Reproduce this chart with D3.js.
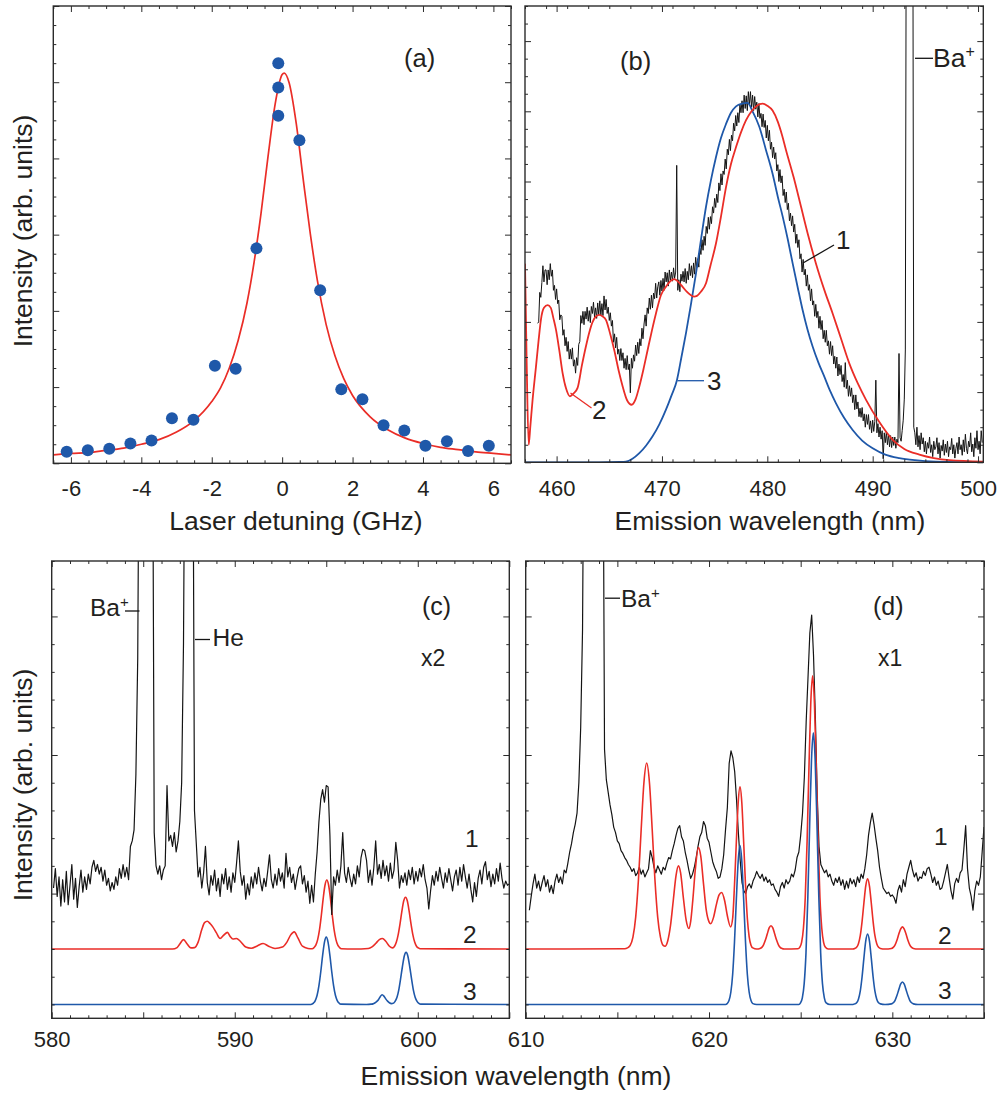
<!DOCTYPE html>
<html>
<head>
<meta charset="utf-8">
<script src="https://cdn.jsdelivr.net/npm/d3@7"></script>
<style>
  body { margin: 0; background: #fff; }
  svg { display: block; font-family: "Liberation Sans", Arial, Helvetica, sans-serif; }
</style>
</head>
<body>
<svg id="fig" width="999" height="1097"></svg>
<script>
// ---------- (a) excitation spectrum ----------
const detuningGHz = [-6.12,-5.52,-4.91,-4.31,-3.71,-3.13,-2.52,-1.91,-1.32,-0.73,-0.11,-0.11,-0.11,0.49,1.08,1.68,2.28,2.88,3.47,4.07,4.68,5.28,5.87];
const excitationSignal = [0.15,0.17,0.19,0.26,0.30,0.59,0.57,1.28,1.24,2.82,4.56,4.93,5.25,4.24,2.27,0.97,0.84,0.50,0.43,0.23,0.29,0.16,0.23];
const fitDetuning = [-6.5,-6,-5.5,-5,-4.5,-4,-3.5,-3,-2.5,-2,-1.75,-1.5,-1.25,-1,-0.8,-0.6,-0.4,-0.2,0,0.06,0.2,0.4,0.6,0.8,1,1.25,1.5,1.75,2,2.5,3,3.5,4,4.5,5,5.5,6,6.5];
const fitSignal = [0.11,0.13,0.14,0.17,0.20,0.25,0.31,0.41,0.56,0.81,0.99,1.25,1.61,2.10,2.63,3.28,4.03,4.71,5.10,5.12,4.99,4.46,3.72,3.01,2.40,1.82,1.41,1.11,0.89,0.61,0.44,0.33,0.26,0.21,0.18,0.15,0.13,0.11];

// ---------- (b) blue emission band ----------
const measuredB_start = 458.2, measuredB_step = 0.1;
const measuredB = [
1.98,2.00,2.42,2.35,2.56,2.80,2.57,2.74,
2.74,2.53,2.74,2.60,2.83,2.65,2.74,2.45,2.52,2.32,
2.47,2.26,2.31,2.03,2.10,2.08,1.81,1.89,1.66,1.78,
1.58,1.72,1.47,1.61,1.47,1.63,1.37,1.46,1.27,1.49,
1.38,1.68,1.72,2.09,1.98,2.15,1.96,2.15,2.04,2.21,
2.01,2.16,1.99,2.22,2.12,2.28,2.07,2.20,2.05,2.27,
2.10,2.30,2.09,2.26,2.09,2.37,2.17,2.32,2.12,2.21,
2.02,2.13,1.94,2.02,1.71,1.83,1.63,1.78,1.54,1.61,
1.45,1.62,1.45,1.56,1.34,1.48,1.32,1.52,1.32,1.40,
0.99,1.48,1.34,1.53,1.44,1.67,1.52,1.71,1.55,1.76,
1.66,1.91,1.76,1.97,2.10,1.94,2.20,2.12,2.34,2.18,
2.38,2.20,2.41,2.33,2.55,2.34,2.50,2.57,2.38,2.59,
2.44,2.62,2.45,2.71,2.57,2.70,2.51,2.74,2.59,2.71,
2.58,2.77,2.62,2.71,4.23,2.45,2.60,2.43,2.68,2.58,
2.72,2.57,2.76,2.55,2.72,2.60,2.83,2.66,2.80,2.63,
2.84,2.68,2.92,2.77,2.90,2.78,3.05,2.96,3.17,3.02,
3.22,3.09,3.36,3.26,3.49,3.32,3.50,3.40,3.64,3.55,
3.76,3.63,3.82,3.70,3.98,3.87,4.11,3.95,4.15,4.10,
4.32,4.18,4.46,4.38,4.60,4.44,4.66,4.58,4.83,4.72,
4.94,4.79,4.98,4.84,5.10,4.98,5.15,4.98,5.23,5.04,
5.22,5.01,5.28,5.09,5.28,5.06,5.23,5.01,5.21,5.03,
5.13,4.92,5.11,4.90,4.97,4.78,4.96,4.77,4.87,4.62,
4.80,4.58,4.73,4.46,4.56,4.34,4.49,4.32,4.41,4.15,
4.24,4.00,4.17,3.98,4.08,3.80,3.89,3.70,3.85,3.60,
3.69,3.44,3.55,3.37,3.51,3.28,3.39,3.12,3.25,3.06,
3.17,2.90,2.97,2.71,2.89,2.67,2.75,2.51,2.67,2.45,
2.53,2.30,2.47,2.24,2.30,2.08,2.25,2.06,2.15,1.91,
2.08,1.89,2.02,1.76,1.88,1.71,1.88,1.66,1.73,1.54,
1.72,1.52,1.66,1.40,1.51,1.34,1.50,1.23,1.40,1.25,
1.38,1.15,1.25,1.07,1.42,1.05,1.17,0.94,1.09,0.94,
1.06,0.85,0.96,0.75,0.96,0.76,0.86,0.65,0.77,0.64,
0.78,0.59,0.69,0.50,0.68,0.54,0.68,0.47,0.59,0.42,
0.60,0.44,0.58,1.17,0.42,0.55,0.36,0.50,0.33,0.45,
0.05,0.42,0.28,0.43,0.25,0.40,0.22,0.38,0.21,0.36,
0.24,0.36,0.20,0.33,0.28,1.55,0.35,0.30,0.45,0.60,
0.90,1.60,9,9,9,9,9,9,9,0.50,
0.42,0.25,0.50,0.22,0.38,0.18,0.42,0.26,0.35,0.15,
0.30,0.12,0.28,0.20,0.36,0.14,0.25,0.08,0.30,0.18,
0.22,0.35,0.12,0.28,0.06,0.24,0.16,0.32,0.10,0.26,
0.14,0.30,0.08,0.22,0.18,0.34,0.12,0.25,0.06,0.20,
0.28,0.12,0.36,0.18,0.25,0.10,0.32,0.15,0.40,0.20,
0.12,0.30,0.22,0.42,0.15,0.26,0.08,0.35,0.20,0.45,
0.18,0.30,0.12,0.45,0.28
];
const modelB2 = [[457.0,2.83],[457.15,1.5],[457.35,0.25],[457.5,0.5],[457.72,0.89],[458.04,1.36],[458.3,1.75],[458.51,2.03],[458.8,2.2],[459.15,2.24],[459.45,2.2],[459.7,2.05],[459.94,1.89],[460.25,1.6],[460.57,1.27],[460.9,1.05],[461.27,0.94],[461.6,0.98],[461.99,1.06],[462.4,1.38],[462.78,1.65],[463.1,1.85],[463.42,2.0],[463.75,2.08],[464.05,2.10],[464.35,2.08],[464.68,2.03],[465.1,1.82],[465.47,1.6],[465.9,1.3],[466.27,1.08],[466.7,0.88],[467.12,0.82],[467.5,0.9],[467.85,1.08],[468.25,1.33],[468.64,1.6],[469.05,1.88],[469.43,2.12],[469.9,2.38],[470.38,2.50],[470.8,2.58],[471.17,2.61],[471.55,2.57],[471.96,2.50],[472.35,2.43],[472.75,2.38],[473.05,2.36],[473.32,2.37],[473.7,2.43],[474.18,2.55],[474.6,2.8],[475.13,3.12],[475.6,3.5],[476.08,3.92],[476.55,4.25],[477.03,4.49],[477.5,4.7],[477.97,4.87],[478.5,5.0],[479.0,5.08],[479.56,5.11],[480.0,5.08],[480.5,5.01],[481.0,4.85],[481.4,4.66],[481.77,4.45],[482.5,4.06],[483.2,3.64],[483.9,3.22],[484.62,2.83],[485.4,2.46],[486.2,2.12],[487.0,1.76],[487.78,1.41],[488.6,1.12],[489.37,0.89],[490.6,0.58],[491.9,0.32],[493.0,0.19],[494.43,0.11],[495.8,0.06],[497.28,0.03],[500.5,0.01]];
const modelB3 = [[457.0,0],[464.0,0],[466.0,0.005],[466.58,0.01],[467.2,0.05],[467.85,0.13],[468.5,0.24],[469.11,0.37],[469.75,0.54],[470.38,0.75],[470.9,0.95],[471.42,1.17],[471.85,1.5],[472.28,1.84],[472.75,2.25],[473.23,2.69],[473.7,3.17],[474.18,3.64],[474.65,4.02],[475.13,4.35],[475.6,4.62],[476.08,4.82],[476.55,4.98],[477.03,5.07],[477.6,5.11],[478.13,5.12],[478.6,5.0],[479.24,4.78],[479.87,4.45],[480.5,4.11],[481.0,3.78],[481.46,3.50],[481.95,3.17],[482.41,2.83],[482.9,2.48],[483.35,2.17],[483.8,1.9],[484.3,1.65],[484.85,1.42],[485.41,1.22],[485.95,1.02],[486.52,0.84],[487.3,0.63],[488.1,0.46],[489.0,0.31],[490.0,0.20],[491.2,0.11],[492.53,0.06],[494,0.03],[496,0.01],[500.5,0]];

// ---------- (c) 580-605 nm ----------
const measuredC_start = 580.1, measuredC_step = 0.1;
const measuredC = [
0.20,0.90,-0.10,0.60,-0.45,0.50,-0.30,0.80,-0.40,
0.30,1.05,-0.20,0.55,-0.50,0.25,0.85,0.05,0.60,0.15,
0.70,0.35,0.95,1.20,0.80,1.05,0.70,0.95,0.45,0.85,
0.30,0.55,0.10,0.40,0.15,0.60,0.30,0.90,0.55,1.05,
0.60,0.95,0.50,1.70,1.90,2.30,4.30,8.50,20,20,
20,20,20,20,20,20,2.20,1.00,0.70,1.00,
0.50,0.85,1.00,3.90,1.90,2.10,1.70,2.20,1.50,1.90,
2.60,4.00,9.00,20,20,20,20,20,3.00,1.80,
0.60,0.95,0.20,0.75,1.70,0.40,-0.05,0.65,0.30,0.85,
0.10,0.55,-0.10,0.70,0.35,0.90,0.15,0.60,0.05,0.75,
0.40,1.10,1.90,0.80,0.30,0.65,-0.20,0.35,-0.05,0.60,
0.20,0.75,0.35,0.95,0.45,0.10,0.55,0.25,0.80,1.40,
0.50,0.20,0.70,0.30,0.90,0.45,0.75,0.20,1.45,0.60,
0.95,0.40,0.70,0.15,0.55,0.90,1.00,0.35,0.65,0.05,
0.45,-0.35,0.30,-0.30,0.70,1.50,2.60,3.40,3.75,3.30,
3.90,3.85,2.10,-0.75,0.60,0.30,0.85,0.40,1.00,2.20,
0.75,0.40,0.95,0.55,0.25,0.70,0.35,1.00,0.60,1.30,
1.60,1.55,1.20,0.40,0.85,0.30,0.95,1.90,0.70,1.05,
0.55,1.20,0.65,1.00,0.45,1.10,0.55,0.85,1.85,1.20,
0.20,0.65,0.40,0.75,0.30,0.85,0.50,0.95,0.35,0.80,
0.45,0.90,0.60,1.05,0.50,0.20,-0.55,0.10,0.65,0.30,
0.80,0.45,0.95,0.55,0.20,0.75,0.40,0.90,0.50,0.10,
0.60,0.85,0.30,0.95,0.45,1.05,0.60,0.20,0.70,0.15,
-0.30,0.40,-0.10,0.55,0.85,0.35,0.95,1.15,0.50,0.80,
0.25,0.70,0.35,0.90,0.45,1.10,0.55,0.20,0.45,0.30,
0.35
];
const modelC2 = [[580,-2],[586.6,-2],[586.85,-1.95],[587.0,-1.82],[587.2,-1.66],[587.4,-1.82],[587.6,-1.96],[587.8,-1.95],[588.0,-1.75],[588.2,-1.3],[588.35,-1.05],[588.5,-1.0],[588.65,-1.08],[588.8,-1.2],[589.0,-1.42],[589.2,-1.62],[589.4,-1.5],[589.6,-1.4],[589.75,-1.55],[589.9,-1.64],[590.1,-1.62],[590.3,-1.72],[590.6,-1.93],[590.9,-1.97],[591.25,-1.88],[591.55,-1.8],[591.85,-1.9],[592.2,-1.98],[592.6,-1.93],[592.85,-1.75],[593.05,-1.5],[593.25,-1.38],[593.45,-1.6],[593.7,-1.9],[594.0,-1.98],[594.23,-1.99],[594.33,-1.95],[594.43,-1.86],[594.53,-1.66],[594.63,-1.31],[594.73,-0.79],[594.83,-0.19],[594.93,0.30],[595.03,0.49],[595.13,0.30],[595.23,-0.19],[595.33,-0.79],[595.43,-1.31],[595.53,-1.66],[595.63,-1.86],[595.73,-1.95],[595.83,-1.99],[596.5,-2],[597.3,-1.98],[597.5,-1.92],[597.7,-1.8],[597.9,-1.66],[598.07,-1.62],[598.25,-1.72],[598.45,-1.9],[598.63,-1.96],[598.73,-1.9],[598.83,-1.75],[598.93,-1.48],[599.03,-1.09],[599.13,-0.64],[599.23,-0.27],[599.33,-0.13],[599.43,-0.27],[599.53,-0.64],[599.63,-1.09],[599.73,-1.48],[599.83,-1.75],[599.93,-1.9],[600.03,-1.96],[600.13,-1.99],[605,-2]];
const modelC3 = [[580,-4],[594.1,-4],[594.2,-3.99],[594.3,-3.95],[594.4,-3.86],[594.5,-3.67],[594.6,-3.32],[594.7,-2.82],[594.8,-2.24],[594.9,-1.76],[595.0,-1.57],[595.1,-1.76],[595.2,-2.24],[595.3,-2.82],[595.4,-3.32],[595.5,-3.67],[595.6,-3.86],[595.7,-3.95],[595.8,-3.99],[597.2,-4],[597.45,-3.99],[597.55,-3.98],[597.65,-3.95],[597.75,-3.9],[597.85,-3.83],[597.95,-3.72],[598.05,-3.65],[598.15,-3.7],[598.25,-3.8],[598.35,-3.88],[598.45,-3.94],[598.56,-3.97],[598.66,-3.96],[598.76,-3.89],[598.86,-3.75],[598.96,-3.48],[599.06,-3.08],[599.16,-2.64],[599.26,-2.26],[599.36,-2.12],[599.46,-2.26],[599.56,-2.64],[599.66,-3.08],[599.76,-3.48],[599.86,-3.75],[599.96,-3.89],[600.06,-3.96],[600.16,-3.99],[605,-4]];

// ---------- (d) 610-635 nm ----------
const measuredD_start = 610.2, measuredD_step = 0.1;
const measuredD = [
-0.60,-0.10,0.35,0.70,0.20,0.45,0.10,0.40,
0.65,0.25,0.50,0.05,0.30,0.00,0.45,0.70,0.40,0.60,
0.35,0.85,0.75,1.10,1.50,1.80,2.20,2.50,2.90,4.00,
6.00,9.50,20,20,20,20,20,20,20,20,
20,20,20,5.20,4.10,3.65,3.20,2.85,2.40,2.20,
1.90,1.80,1.55,1.45,1.30,1.20,1.05,0.95,0.80,0.90,
0.65,0.75,0.95,0.70,0.85,0.60,0.75,0.90,1.55,1.30,
0.95,0.75,1.00,0.85,0.70,0.95,0.85,1.10,1.30,1.25,
1.55,1.80,2.10,2.35,2.45,2.05,1.90,1.50,1.20,0.85,
0.55,0.70,0.95,1.30,1.70,2.05,2.20,2.60,2.45,2.00,
1.85,1.50,1.15,0.95,0.80,0.55,0.60,0.90,1.40,2.30,
3.10,4.70,5.15,4.90,4.40,3.40,2.20,1.20,0.40,0.10,
0.00,0.25,0.35,0.20,0.45,0.60,0.80,0.65,0.55,0.70,
0.45,0.60,0.40,0.50,0.30,0.35,0.15,0.05,-0.10,0.25,
0.40,0.20,0.50,0.35,0.45,0.70,0.60,0.85,1.30,1.50,
2.10,2.90,4.20,6.20,7.80,9.40,10.05,8.60,6.40,3.60,
1.70,1.05,0.90,0.75,0.85,0.60,0.70,0.45,0.30,0.55,
0.40,0.60,0.30,0.50,0.15,0.45,0.20,0.55,0.35,0.50,
0.25,0.60,0.40,0.70,0.55,0.90,1.40,2.10,2.55,2.90,
2.50,2.00,1.55,0.95,0.55,0.20,0.10,0.00,0.05,-0.10,
-0.05,-0.15,-0.35,0.10,0.30,0.05,0.50,0.25,0.70,0.95,
1.20,0.85,0.60,0.75,0.45,0.60,0.55,0.80,0.65,0.90,
0.95,0.70,0.40,0.60,0.30,0.45,0.15,0.20,0.45,0.75,
1.05,0.55,0.10,-0.20,0.35,0.55,0.40,0.75,0.85,1.60,
2.45,0.90,0.20,-0.10,-0.60,0.10,0.45,0.30,0.60,1.50,
2.40
];
const modelD2 = [[610,-2],[615.4,-1.99],[615.55,-1.96],[615.7,-1.87],[615.85,-1.57],[616.0,-0.85],[616.15,0.50],[616.3,2.32],[616.45,4.01],[616.6,4.71],[616.75,4.01],[616.9,2.32],[617.05,0.50],[617.2,-0.85],[617.35,-1.57],[617.5,-1.87],[617.6,-1.9],[617.75,-1.7],[617.9,-1.15],[618.05,-0.25],[618.2,0.65],[618.33,1.0],[618.45,0.75],[618.6,-0.15],[618.75,-0.95],[618.9,-1.26],[619.0,-1.0],[619.12,-0.2],[619.25,0.85],[619.42,1.66],[619.55,1.35],[619.7,0.35],[619.85,-0.6],[620.0,-1.02],[620.09,-1.09],[620.25,-0.85],[620.4,-0.4],[620.55,-0.05],[620.69,0.04],[620.85,-0.25],[621.0,-0.8],[621.18,-1.2],[621.29,-0.89],[621.39,0.31],[621.49,1.86],[621.59,3.27],[621.69,3.85],[621.79,3.27],[621.89,1.86],[621.99,0.31],[622.09,-0.89],[622.19,-1.56],[622.29,-1.86],[622.39,-1.96],[622.6,-2.0],[622.78,-1.98],[622.88,-1.94],[622.98,-1.84],[623.08,-1.67],[623.18,-1.45],[623.28,-1.24],[623.38,-1.16],[623.48,-1.24],[623.58,-1.45],[623.68,-1.67],[623.78,-1.84],[623.88,-1.94],[623.98,-1.98],[624.1,-2.0],[624.85,-1.99],[624.95,-1.94],[625.05,-1.76],[625.15,-1.25],[625.25,-0.13],[625.35,1.89],[625.45,4.51],[625.55,6.87],[625.65,7.86],[625.75,6.87],[625.85,4.51],[625.95,1.89],[626.05,-0.13],[626.15,-1.25],[626.25,-1.76],[626.35,-1.94],[626.5,-2.0],[627.85,-2.0],[627.95,-1.98],[628.05,-1.94],[628.15,-1.81],[628.25,-1.52],[628.35,-1.0],[628.45,-0.33],[628.55,0.28],[628.65,0.53],[628.75,0.28],[628.85,-0.33],[628.95,-1.0],[629.05,-1.52],[629.15,-1.81],[629.25,-1.94],[629.35,-1.98],[629.6,-2.0],[629.95,-1.98],[630.05,-1.94],[630.15,-1.85],[630.25,-1.68],[630.35,-1.47],[630.45,-1.28],[630.55,-1.2],[630.65,-1.28],[630.75,-1.47],[630.85,-1.68],[630.95,-1.85],[631.05,-1.94],[631.15,-1.98],[631.4,-2.0],[635,-2]];
const modelD3 = [[610,-4],[620.9,-4],[620.99,-3.97],[621.09,-3.86],[621.19,-3.56],[621.29,-2.91],[621.39,-1.74],[621.49,-0.22],[621.59,1.16],[621.69,1.73],[621.79,1.16],[621.89,-0.22],[621.99,-1.74],[622.09,-2.91],[622.19,-3.56],[622.29,-3.86],[622.39,-3.97],[622.6,-4],[624.9,-4],[624.99,-3.94],[625.09,-3.76],[625.19,-3.26],[625.29,-2.14],[625.39,-0.13],[625.49,2.47],[625.59,4.82],[625.69,5.8],[625.79,4.82],[625.89,2.47],[625.99,-0.13],[626.09,-2.14],[626.19,-3.26],[626.29,-3.76],[626.39,-3.94],[626.6,-4],[627.85,-4],[627.95,-3.98],[628.05,-3.94],[628.15,-3.81],[628.25,-3.52],[628.35,-3.0],[628.45,-2.32],[628.55,-1.71],[628.65,-1.46],[628.75,-1.71],[628.85,-2.32],[628.95,-3.0],[629.05,-3.52],[629.15,-3.81],[629.25,-3.94],[629.35,-3.98],[629.6,-4],[629.95,-3.98],[630.05,-3.94],[630.15,-3.85],[630.25,-3.68],[630.35,-3.47],[630.45,-3.27],[630.55,-3.19],[630.65,-3.27],[630.75,-3.47],[630.85,-3.68],[630.95,-3.85],[631.05,-3.94],[631.15,-3.98],[631.4,-4],[635,-4]];

// ---------- tick values ----------
const ticksA_x = [-6,-4,-2,0,2,4,6];
const ticksB_x = [460,470,480,490,500];
const ticksC_x = [580,590,600];
const ticksD_x = [610,620,630];

// ---------- drawing ----------
const COL = { red: "#ea2d27", blue: "#1f58a9", black: "#141414", axis: "#2b2b2b", text: "#231f20" };
const svg = d3.select("#fig");
svg.append("rect").attr("width", 999).attr("height", 1097).attr("fill", "#fff");

function range(a, b, s) { const out = []; for (let v = a; v <= b + 1e-9; v += s) out.push(+v.toFixed(4)); return out; }

function panel(o) {
  const w = o.x1 - o.x0, h = o.y1 - o.y0;
  const g = svg.append("g").attr("transform", `translate(${o.x0},${o.y0})`);
  const x = d3.scaleLinear().domain(o.xDomain).range([0, w]);
  const y = d3.scaleLinear().domain(o.yDomain).range([h, 0]);
  const cid = "clip-" + o.id;
  g.append("clipPath").attr("id", cid).append("rect").attr("width", w).attr("height", h);
  const plot = g.append("g").attr("clip-path", `url(#${cid})`);

  const xMinor = range(o.xDomain[0], o.xDomain[1], o.xMinorStep).filter(v => Math.abs(v / o.xMajorStep - Math.round(v / o.xMajorStep)) > 1e-6);
  const xMajor = range(Math.ceil(o.xDomain[0] / o.xMajorStep) * o.xMajorStep, o.xDomain[1], o.xMajorStep);
  const yMinor = range(Math.ceil(o.yDomain[0] / o.yMinorStep) * o.yMinorStep, o.yDomain[1], o.yMinorStep).filter(v => Math.abs(v / o.yMajorStep - Math.round(v / o.yMajorStep)) > 1e-6);
  const yMajor = range(Math.ceil(o.yDomain[0] / o.yMajorStep) * o.yMajorStep, o.yDomain[1], o.yMajorStep);

  const axes = g.append("g").attr("class", "axes");
  const add = (axis, tr, vals, size, labels) => {
    const a = axis.tickValues(vals).tickSize(size).tickPadding(o.labelPad);
    a.tickFormat(labels ? (d => labels.some(l => Math.abs(l - d) < 1e-6) ? String(d) : "") : () => "");
    const ag = axes.append("g").attr("transform", tr).call(a);
    ag.select(".domain").remove();
    ag.selectAll("line").attr("stroke", COL.axis).attr("stroke-width", 1);
    ag.selectAll("text").attr("fill", COL.text).style("font-size", "22px").style("font-family", "Liberation Sans, Arial, sans-serif");
  };
  add(d3.axisBottom(x), `translate(0,${h})`, xMinor, -3, null);
  add(d3.axisBottom(x), `translate(0,${h})`, xMajor, -6, o.xLabels);
  add(d3.axisTop(x), "translate(0,0)", xMinor, -3, null);
  add(d3.axisTop(x), "translate(0,0)", xMajor, -6, null);
  add(d3.axisLeft(y), "translate(0,0)", yMinor, -3, null);
  add(d3.axisLeft(y), "translate(0,0)", yMajor, -6, null);
  add(d3.axisRight(y), `translate(${w},0)`, yMinor, -3, null);
  add(d3.axisRight(y), `translate(${w},0)`, yMajor, -6, null);

  return { g, plot, x, y, w, h, finish() {
    g.append("rect").attr("width", w).attr("height", h).attr("fill", "none")
      .attr("stroke", COL.axis).attr("stroke-width", 1.4);
  } };
}

function sampled(p, start, step, vals, color, width) {
  const line = d3.line().x((d, i) => p.x(start + i * step)).y(d => p.y(d));
  p.plot.append("path").attr("d", line(vals)).attr("fill", "none")
    .attr("stroke", color).attr("stroke-width", width).attr("stroke-linejoin", "round");
}
function smooth(p, pts, color, width) {
  const line = d3.line().x(d => p.x(d[0])).y(d => p.y(d[1])).curve(d3.curveMonotoneX);
  p.plot.append("path").attr("d", line(pts)).attr("fill", "none")
    .attr("stroke", color).attr("stroke-width", width).attr("stroke-linejoin", "round");
}
function text(x, y, s, size, opts = {}) {
  const t = svg.append("text").attr("x", x).attr("y", y).attr("fill", COL.text)
    .style("font-size", size + "px").attr("text-anchor", opts.anchor || "start");
  if (opts.rotate) t.attr("transform", `rotate(-90,${x},${y})`);
  t.text(s);
  if (opts.sup) t.append("tspan").attr("dy", -opts.supShift).style("font-size", opts.supSize + "px").text(opts.sup);
  return t;
}
function leader(x1, y1, x2, y2, color) {
  svg.append("line").attr("x1", x1).attr("y1", y1).attr("x2", x2).attr("y2", y2)
    .attr("stroke", color).attr("stroke-width", 1.3);
}

// (a)
const pA = panel({ id: "a", x0: 53.3, x1: 511, y0: 6, y1: 463.3, xDomain: [-6.5, 6.5], yDomain: [0, 6],
  xMajorStep: 2, xMinorStep: 0.5, yMajorStep: 1, yMinorStep: 0.25, xLabels: ticksA_x, labelPad: 17.5 });
pA.plot.append("path")
  .attr("d", d3.line().x((d, i) => pA.x(fitDetuning[i])).y(d => pA.y(d)).curve(d3.curveMonotoneX)(fitSignal))
  .attr("fill", "none").attr("stroke", COL.red).attr("stroke-width", 1.7);
pA.plot.selectAll("circle").data(excitationSignal).join("circle")
  .attr("cx", (d, i) => pA.x(detuningGHz[i])).attr("cy", d => pA.y(d)).attr("r", 6)
  .attr("fill", COL.blue);
pA.finish();

// (b)
const pB = panel({ id: "b", x0: 525, x1: 983.3, y0: 6, y1: 462.3, xDomain: [457, 500.5], yDomain: [0, 6.5],
  xMajorStep: 10, xMinorStep: 2, yMajorStep: 1, yMinorStep: 0.25, xLabels: ticksB_x, labelPad: 17.8 });
sampled(pB, measuredB_start, measuredB_step, measuredB, COL.black, 1);
smooth(pB, modelB3, COL.blue, 1.8);
smooth(pB, modelB2, COL.red, 1.8);
pB.finish();

// (c)
const pC = panel({ id: "c", x0: 51.7, x1: 509.3, y0: 561, y1: 1018.3, xDomain: [580, 605], yDomain: [-4.5, 12],
  xMajorStep: 5, xMinorStep: 1, yMajorStep: 5, yMinorStep: 1, xLabels: ticksC_x, labelPad: 13.5 });
smooth(pC, modelC3, COL.blue, 1.6);
smooth(pC, modelC2, COL.red, 1.6);
sampled(pC, measuredC_start, measuredC_step, measuredC, COL.black, 1.2);
pC.finish();

// (d)
const pD = panel({ id: "d", x0: 525.7, x1: 984, y0: 561, y1: 1018.3, xDomain: [610, 635], yDomain: [-4.5, 12],
  xMajorStep: 5, xMinorStep: 1, yMajorStep: 5, yMinorStep: 1, xLabels: ticksD_x, labelPad: 13.5 });
sampled(pD, measuredD_start, measuredD_step, measuredD, COL.black, 1.2);
smooth(pD, modelD2, COL.red, 1.6);
smooth(pD, modelD3, COL.blue, 1.6);
pD.finish();

// axis titles
text(296, 530, "Laser detuning (GHz)", 26.5, { anchor: "middle" });
text(770, 530, "Emission wavelength (nm)", 26.5, { anchor: "middle" });
text(516, 1085, "Emission wavelength (nm)", 26.5, { anchor: "middle" });
text(32, 231, "Intensity (arb. units)", 26.5, { anchor: "middle", rotate: true });
text(32, 785, "Intensity (arb. units)", 26.5, { anchor: "middle", rotate: true });

// panel letters
text(404, 67, "(a)", 25.5);
text(620, 70, "(b)", 25.5);
text(422, 615, "(c)", 25);
text(873, 615, "(d)", 25);
text(421, 666, "x2", 23);
text(878, 666, "x1", 23);

// curve labels, (b)
leader(803, 263, 834, 245, COL.black);
text(836, 248.5, "1", 26);
leader(570.5, 393, 591.5, 408, COL.red);
text(592, 418.5, "2", 26);
leader(677.5, 380.7, 704, 380.7, COL.blue);
text(707, 390, "3", 26);
leader(915, 58.3, 933, 58.3, COL.black);
text(933, 66.7, "Ba", 26.5, { sup: "+", supShift: 10, supSize: 16 });

// curve labels, (c)
leader(125, 611, 139.5, 611, COL.black);
text(90, 616, "Ba", 24.5, { sup: "+", supShift: 9, supSize: 15 });
leader(195, 639.5, 210, 639.5, COL.black);
text(212.5, 645.6, "He", 24.5);
text(465, 846.5, "1", 24.5);
text(463, 943, "2", 24.5);
text(463, 1000, "3", 24.5);

// curve labels, (d)
leader(605, 598.2, 620, 598.2, COL.black);
text(621, 607.4, "Ba", 24.5, { sup: "+", supShift: 9, supSize: 15 });
text(934, 845.4, "1", 24.5);
text(938, 943.6, "2", 24.5);
text(938, 998.5, "3", 24.5);
</script>
</body>
</html>
